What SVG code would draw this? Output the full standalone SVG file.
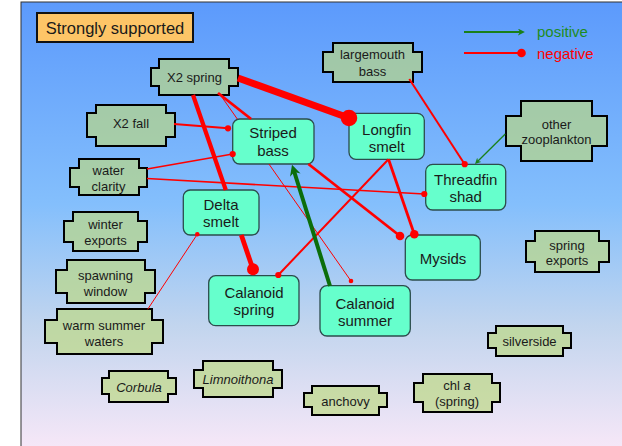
<svg xmlns="http://www.w3.org/2000/svg" width="622" height="446" viewBox="0 0 622 446">
<defs>
  <linearGradient id="bg" x1="0" y1="0" x2="0" y2="1">
    <stop offset="0" stop-color="#5c9afc"/>
    <stop offset="0.45" stop-color="#84bffc"/>
    <stop offset="0.72" stop-color="#c2d5ee"/>
    <stop offset="1" stop-color="#f8e8f8"/>
  </linearGradient>
  <marker id="d2" viewBox="-1 -1 2 2" markerWidth="4.6" markerHeight="4.6" markerUnits="userSpaceOnUse" overflow="visible"><circle r="1" fill="#ff0000"/></marker>
  <marker id="d3" viewBox="-1 -1 2 2" markerWidth="6.2" markerHeight="6.2" markerUnits="userSpaceOnUse" overflow="visible"><circle r="1" fill="#ff0000"/></marker>
  <marker id="d4" viewBox="-1 -1 2 2" markerWidth="8.6" markerHeight="8.6" markerUnits="userSpaceOnUse" overflow="visible"><circle r="1" fill="#ff0000"/></marker>
  <marker id="d6" viewBox="-1 -1 2 2" markerWidth="12" markerHeight="12" markerUnits="userSpaceOnUse" overflow="visible"><circle r="1" fill="#ff0000"/></marker>
  <marker id="d8" viewBox="-1 -1 2 2" markerWidth="16.5" markerHeight="16.5" markerUnits="userSpaceOnUse" overflow="visible"><circle r="1" fill="#ff0000"/></marker>
  <marker id="aS" viewBox="0 0 10 10" refX="3" refY="5" markerWidth="6" markerHeight="6" orient="auto" markerUnits="userSpaceOnUse"><path d="M0,0 L10,5 L0,10 L3,5 z" fill="#1a801a"/></marker>
  <marker id="aM" viewBox="0 0 10 10" refX="3" refY="5" markerWidth="7" markerHeight="7" orient="auto" markerUnits="userSpaceOnUse"><path d="M0,0 L10,5 L0,10 L3,5 z" fill="#1a801a"/></marker>
  <marker id="aL" viewBox="0 0 10 10" refX="3" refY="5" markerWidth="11" markerHeight="11" orient="auto" markerUnits="userSpaceOnUse"><path d="M0,0 L10,5 L0,10 L3,5 z" fill="#0b6e0b"/></marker>
</defs>
<style>
  text { font-family: "Liberation Sans", Arial, sans-serif; fill: #1a1a1a; text-anchor: middle; }
  .oct { fill: #bdd880; fill-opacity: 0.68; stroke: #000; stroke-width: 2; }
  .rr { fill: #66ffcc; stroke: #2c4c4c; stroke-width: 1.3; }
  .t13 { font-size: 13px; }
  .t15 { font-size: 15px; }
  .neg { stroke: #ff0000; fill: none; }
  .pos { stroke: #1a801a; fill: none; }
</style>
<rect x="0" y="0" width="622" height="446" fill="#ffffff"/>
<rect x="21" y="2" width="610" height="450" fill="url(#bg)" stroke="#333" stroke-width="1"/>

<g id="title">
  <rect x="37" y="13" width="156" height="29" fill="#fdc567" stroke="#111" stroke-width="2"/>
  <text x="115" y="34" style="font-size:16.5px">Strongly supported</text>
</g>

<g id="legend">
  <line class="pos" x1="464" y1="32" x2="520" y2="32" stroke-width="2" marker-end="url(#aM)"/>
  <text x="537" y="37" style="font-size:15px;fill:#1e8c1e;text-anchor:start">positive</text>
  <line class="neg" x1="464" y1="53" x2="521.5" y2="53" stroke-width="2" marker-end="url(#d4)"/>
  <text x="537" y="59" style="font-size:15px;fill:#ff0000;text-anchor:start">negative</text>
</g>

<g id="node-x2spring"><path class="oct" d="M159,59 H229 V68 H238 V86 H229 V95 H159 V86 H151 V68 H159 Z"/><text class="t13" x="194.5" y="82">X2 spring</text></g>
<g id="node-x2fall"><path class="oct" d="M96,105 H166 V113 H175 V137 H166 V146 H96 V137 H87 V113 H96 Z"/><text class="t13" x="131" y="128">X2 fall</text></g>
<g id="node-waterclarity"><path class="oct" d="M79,159 H139 V168 H147 V187 H139 V195 H79 V187 H70 V168 H79 Z"/><text class="t13" x="108.5" y="175">water</text><text class="t13" x="108.5" y="191">clarity</text></g>
<g id="node-winterexports"><path class="oct" d="M73,212 H138 V221 H147 V242 H138 V251 H73 V242 H64 V221 H73 Z"/><text class="t13" x="105.5" y="229">winter</text><text class="t13" x="105.5" y="245">exports</text></g>
<g id="node-spawningwindow"><path class="oct" d="M67,260 H145 V270 H155 V293 H145 V303 H67 V293 H56 V270 H67 Z"/><text class="t13" x="105.5" y="280">spawning</text><text class="t13" x="105.5" y="295.5">window</text></g>
<g id="node-warmsummer"><path class="oct" d="M57,309 H152 V320 H163 V343 H152 V354 H57 V343 H45 V320 H57 Z"/><text class="t13" x="104" y="329.5">warm summer</text><text class="t13" x="104" y="345.5">waters</text></g>
<g id="node-corbula"><path class="oct" d="M109,371 H168 V378 H176 V394 H168 V402 H109 V394 H102 V378 H109 Z"/><text class="t13" x="139" y="392" font-style="italic">Corbula</text></g>
<g id="node-limnoithona"><path class="oct" d="M203,361 H273 V370 H282 V388 H273 V397 H203 V388 H194 V370 H203 Z"/><text class="t13" x="238" y="383.5" font-style="italic">Limnoithona</text></g>
<g id="node-anchovy"><path class="oct" d="M312,386 H379 V393 H387 V407 H379 V415 H312 V407 H304 V393 H312 Z"/><text class="t13" x="345.5" y="406">anchovy</text></g>
<g id="node-chla"><path class="oct" d="M423,374 H492 V383 H500 V402 H492 V412 H423 V402 H414 V383 H423 Z"/><text class="t13" x="457" y="390">chl <tspan font-style="italic">a</tspan></text><text class="t13" x="457" y="406">(spring)</text></g>
<g id="node-silverside"><path class="oct" d="M496,326 H563 V333 H571 V348 H563 V356 H496 V348 H488 V333 H496 Z"/><text class="t13" x="529.5" y="346">silverside</text></g>
<g id="node-springexports"><path class="oct" d="M535,231 H599 V241 H609 V262 H599 V272 H535 V262 H526 V241 H535 Z"/><text class="t13" x="567" y="249.5">spring</text><text class="t13" x="567" y="264.5">exports</text></g>
<g id="node-otherzoo"><path class="oct" d="M521,101 H592 V116 H607 V146 H592 V161 H521 V146 H506 V116 H521 Z"/><text class="t13" x="556.5" y="128.5">other</text><text class="t13" x="556.5" y="144">zooplankton</text></g>
<g id="node-largemouth"><path class="oct" d="M333,43 H413 V52 H422 V72 H413 V82 H333 V72 H323 V52 H333 Z"/><text class="t13" x="372.5" y="59">largemouth</text><text class="t13" x="372.5" y="75.5">bass</text></g>

<g id="node-stripedbass"><rect class="rr" x="232.7" y="119" width="81.3" height="45" rx="7"/><text class="t15" x="273" y="138">Striped</text><text class="t15" x="273" y="156">bass</text></g>
<g id="node-longfin"><rect class="rr" x="349" y="113.3" width="75.3" height="46" rx="7"/><text class="t15" x="386.7" y="134.5">Longfin</text><text class="t15" x="386.7" y="151.5">smelt</text></g>
<g id="node-threadfin"><rect class="rr" x="425.7" y="164.3" width="80" height="45.7" rx="7"/><text class="t15" x="465.7" y="184.8">Threadfin</text><text class="t15" x="465.7" y="202">shad</text></g>
<g id="node-deltasmelt"><rect class="rr" x="183.3" y="190" width="75.7" height="45" rx="7"/><text class="t15" x="221" y="209.8">Delta</text><text class="t15" x="221" y="227">smelt</text></g>
<g id="node-calspring"><rect class="rr" x="208.7" y="275.7" width="90.3" height="50" rx="7"/><text class="t15" x="254" y="297.8">Calanoid</text><text class="t15" x="254" y="315">spring</text></g>
<g id="node-calsummer"><rect class="rr" x="320" y="285.7" width="90.3" height="50.3" rx="7"/><text class="t15" x="365" y="308.8">Calanoid</text><text class="t15" x="365" y="326">summer</text></g>
<g id="node-mysids"><rect class="rr" x="405.3" y="235" width="75" height="45" rx="7"/><text class="t15" x="443" y="263.5">Mysids</text></g>

<g id="connectors">
  <line class="neg" x1="238" y1="78" x2="349" y2="118" stroke-width="7" marker-end="url(#d8)"/>
  <line class="neg" x1="193" y1="95" x2="225.8" y2="190" stroke-width="4.2"/>
  <line class="neg" x1="241.3" y1="235" x2="253" y2="269.3" stroke-width="4.8" marker-end="url(#d6)"/>
  <line class="neg" x1="218" y1="93" x2="251.1" y2="119" stroke-width="2.8"/>
  <line class="neg" x1="308.4" y1="164" x2="400" y2="236" stroke-width="2.8" marker-end="url(#d4)"/>
  <line class="neg" x1="219" y1="93" x2="237.3" y2="119" stroke-width="1"/>
  <line class="neg" x1="268.9" y1="164" x2="351" y2="281" stroke-width="1" marker-end="url(#d2)"/>
  <line class="neg" x1="174" y1="124" x2="228" y2="128.3" stroke-width="2" marker-end="url(#d3)"/>
  <line class="neg" x1="147" y1="169" x2="232.7" y2="154" stroke-width="1.7" marker-end="url(#d3)"/>
  <line class="neg" x1="147" y1="178.5" x2="424.3" y2="194" stroke-width="1.7" marker-end="url(#d3)"/>
  <line class="neg" x1="147.7" y1="309.3" x2="197.3" y2="234.3" stroke-width="1" marker-end="url(#d2)"/>
  <line class="neg" x1="409.3" y1="79" x2="464.7" y2="164.2" stroke-width="2" marker-end="url(#d3)"/>
  <line class="neg" x1="388.5" y1="159.3" x2="414.3" y2="234.3" stroke-width="2.8" marker-end="url(#d4)"/>
  <line class="neg" x1="388.5" y1="159.3" x2="278.3" y2="275" stroke-width="2" marker-end="url(#d3)"/>
  <line class="pos" x1="505.3" y1="134" x2="478" y2="161" stroke-width="1.3" marker-end="url(#aS)"/>
  <line x1="330" y1="286" x2="294.3" y2="172" stroke="#0b6e0b" stroke-width="4" marker-end="url(#aL)"/>
</g>
</svg>
